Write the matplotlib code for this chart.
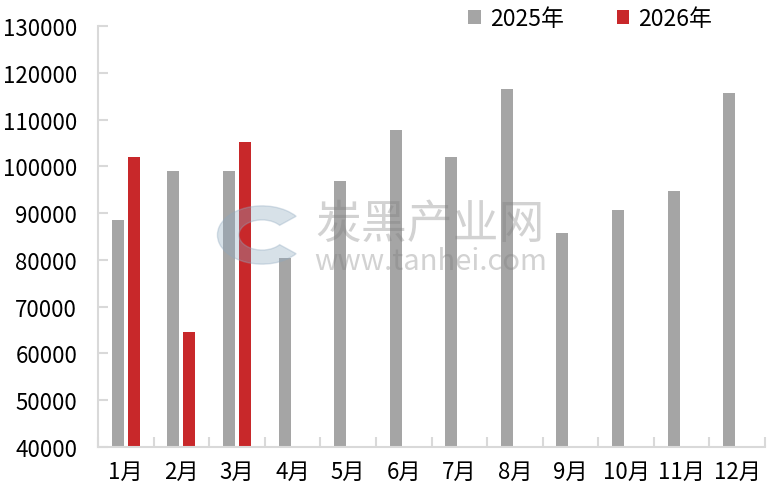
import numpy as np
import matplotlib.pyplot as plt
from matplotlib.patches import Wedge

plt.rcParams['font.family'] = ['Noto Sans CJK SC', 'DejaVu Sans']

months = ['1月', '2月', '3月', '4月', '5月', '6月',
          '7月', '8月', '9月', '10月', '11月', '12月']
values_2025 = [88500, 98900, 98900, 80300, 96800, 107700,
               101900, 116500, 85700, 90600, 94700, 115600]
values_2026 = [101900, 64500, 105300]

GRAY = '#a5a5a5'
RED = '#c8282a'
AXIS_COLOR = '#d9d9d9'
BAR_WIDTH = 0.216
OFFSET = 0.144
FONT_SIZE = 16

fig = plt.figure(figsize=(7.68, 5.02), dpi=100)
ax = fig.add_axes([98 / 768, 1 - 448 / 502, 667 / 768, 421 / 502])

x = np.arange(len(months))
ax.bar(x - OFFSET, values_2025, width=BAR_WIDTH, color=GRAY, label='2025年',
       zorder=2)
x26 = np.arange(len(values_2026))
ax.bar(x26 + OFFSET, values_2026, width=BAR_WIDTH, color=RED, label='2026年',
       zorder=2)

ax.set_ylim(40000, 130000)
ax.set_yticks(np.arange(40000, 130001, 10000))
ax.set_xlim(-0.5, len(months) - 0.5)

# category ticks sit on the boundaries, labels in the middle
ax.set_xticks(np.arange(-0.5, len(months) + 0.5, 1))
ax.set_xticklabels([])
ax.set_xticks(x, minor=True)
ax.set_xticklabels(months, minor=True)
ax.tick_params(axis='x', which='major', direction='in', length=7,
               color=AXIS_COLOR, width=1.5)
ax.tick_params(axis='x', which='minor', length=0, pad=9, labelsize=FONT_SIZE)
ax.tick_params(axis='y', direction='in', length=7, color=AXIS_COLOR,
               width=1.5, pad=15, labelsize=FONT_SIZE)

for side in ['top', 'right']:
    ax.spines[side].set_visible(False)
for side in ['left', 'bottom']:
    ax.spines[side].set_color(AXIS_COLOR)
    ax.spines[side].set_linewidth(1.5)

fig.legend(*ax.get_legend_handles_labels(), loc='center left',
           bbox_to_anchor=(457 / 768, 1 - 20 / 502), ncol=2, borderpad=0,
           frameon=False, fontsize=16.5, handlelength=0.55,
           handleheight=0.55, columnspacing=2.3, handletextpad=0.4)

# watermark
logo = Wedge((262 / 768, 1 - 236 / 502), 0.058, 40, 320, width=0.028,
             transform=fig.transFigure, color='#8fa9bf', alpha=0.35,
             zorder=5)
fig.patches.append(logo)
fig.text(430 / 768, 1 - 225 / 502, '炭黑产业网', fontsize=33, color='#7f7f7f',
         alpha=0.35, ha='center', va='center', zorder=5)
fig.text(431 / 768, 1 - 262 / 502, 'www.tanhei.com', fontsize=21,
         color='#7f7f7f', alpha=0.35, ha='center', va='center', zorder=5)

fig.savefig('out.png', dpi=100)
